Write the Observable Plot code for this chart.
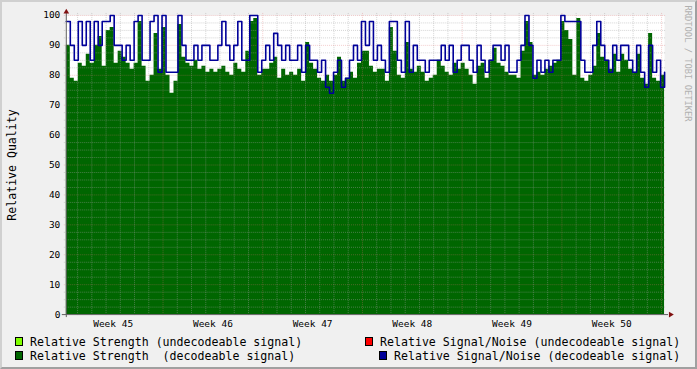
<!DOCTYPE html>
<html><head><meta charset="utf-8">
<script src="https://cdn.jsdelivr.net/npm/d3@7"></script>
<script src="https://cdn.jsdelivr.net/npm/@observablehq/plot@0.6"></script>
<style>
html,body{margin:0;padding:0;background:#F0F0F0;}
#wrap{position:relative;width:697px;height:369px;box-sizing:border-box;border-style:solid;border-width:2px;border-color:#d0d0d0 #a0a0a0 #a0a0a0 #d0d0d0;background:#F0F0F0;overflow:hidden;font-family:"DejaVu Sans Mono",monospace;}
#chart{position:absolute;left:-2px;top:-2px;}
.sw{position:absolute;width:6px;height:7px;border:1px solid #000;}
.lt{position:absolute;font-size:11.6px;line-height:14px;white-space:pre;color:#000;}
</style></head>
<body>
<div id="wrap"><div id="chart"></div></div>
<script>
// Relative Strength (decodeable signal), one sample every 6.72 h
const strength = [
 90,79,78,84,83,87,84,90,93,83,95,96,84,88,86,84,82,84,98,83,78,80,94,82,96,80,
 74,78,97,86,84,83,85,82,83,81,82,81,82,83,81,80,84,82,81,88,98,99,80,82,
 82,84,86,79,82,80,81,80,82,78,91,84,82,79,78,80,78,80,86,78,79,81,79,84,88,
 88,83,81,82,82,78,96,88,80,79,91,82,81,83,81,78,79,80,85,83,81,80,84,82,84,
 82,80,77,83,84,79,85,89,84,83,81,80,80,79,88,98,91,80,81,80,82,83,84,85,98,
 95,92,80,99,79,78,80,83,94,86,85,82,87,81,87,85,82,81,87,79,77,94,79,78,80,82
];
// Relative Signal/Noise (decodeable signal)
const signalNoise = [
 98,90,85,98,90,98,85,98,90,98,98,100,90,90,85,90,85,98,100,85,85,98,100,81,100,81,
 81,81,100,90,85,85,90,85,90,90,85,85,90,98,90,85,90,98,85,85,100,100,81,85,
 90,85,94,90,85,90,85,85,90,81,90,85,85,81,85,76,74,81,85,76,79,85,90,85,98,
 90,98,85,90,85,81,98,98,85,81,98,81,90,85,85,81,85,85,85,90,85,90,81,85,90,
 90,85,81,90,85,81,85,90,90,85,90,81,81,85,90,100,90,79,85,81,85,81,85,85,100,
 98,98,98,98,85,81,81,90,98,90,85,81,90,85,90,90,85,81,90,81,76,90,81,85,76,81
];
const weekLabels = ["Week 45","Week 46","Week 47","Week 48","Week 49","Week 50"];
const yTicks = [0,10,20,30,40,50,60,70,80,90,100];
const stepHours = 6.72;      // sampling step
const week45Start = -5.04;   // hours, relative to first sample
const legendItems = [
  {label:"Relative Strength (undecodeable signal)", color:"#80FF00"},
  {label:"Relative Strength  (decodeable signal)", color:"#006600"},
  {label:"Relative Signal/Noise (undecodeable signal)", color:"#FF0000"},
  {label:"Relative Signal/Noise (decodeable signal)", color:"#000099"}
];

const data = strength.map((v,i)=>({t:i*stepHours, strength:v, snr:signalNoise[i]}));
const tMax = (strength.length-1)*stepHours;
const weekMid = weekLabels.map((_,k)=>week45Start+84+168*k);
const weekBounds = d3.range(1,7).map(k=>week45Start+168*k).filter(t=>t<=tMax);
const dayLines = d3.range(1,44).filter(d=>d%7!==0).map(d=>week45Start+24*d).filter(t=>t>0&&t<tMax);
const yMinor = d3.range(2.5,100.1,2.5).filter(v=>v%10!==0);
const yMajor = yTicks.filter(v=>v>0);
const dash = "1,1";

const chart = Plot.plot({
  width:697, height:369,
  marginLeft:66, marginRight:31, marginTop:15, marginBottom:54,
  style:{fontFamily:"DejaVu Sans Mono, monospace", fontSize:"9.5px", background:"transparent", overflow:"visible", color:"#000"},
  x:{domain:[0,tMax]},
  y:{domain:[0,100]},
  marks:[
    Plot.frame({fill:"#ffffff", stroke:"none"}),
    Plot.areaY(data,{x:"t", y:"strength", fill:"#006600", curve:"step-after"}),
    Plot.ruleY(yMinor,{stroke:"#a0a0a0", strokeOpacity:0.45, strokeDasharray:dash, insetLeft:-2, insetRight:-2}),
    Plot.ruleX(dayLines,{stroke:"#a0a0a0", strokeOpacity:0.45, strokeDasharray:dash, insetBottom:-2, insetTop:-2}),
    Plot.ruleY(yMajor,{stroke:"#E07070", strokeOpacity:0.35, strokeDasharray:dash, insetLeft:-2, insetRight:-2}),
    Plot.ruleX(weekBounds,{stroke:"#E07070", strokeOpacity:0.35, strokeDasharray:dash, insetBottom:-2, insetTop:-2}),
    Plot.line(data,{x:"t", y:"snr", stroke:"#000099", strokeWidth:1.6, curve:"step-after"}),
    Plot.ruleX([0],{stroke:"#606060", insetTop:-3, insetBottom:-3}),
    Plot.ruleY([0],{stroke:"#606060", insetLeft:-4, insetRight:-4}),
    Plot.dot([0],{x:()=>0, y:()=>100, symbol:"triangle", r:2.1, fill:"#801010", stroke:"none", dy:-3.5}),
    Plot.dot([0],{x:()=>tMax, y:()=>0, symbol:"triangle", r:2.1, fill:"#801010", stroke:"none", rotate:90, dx:6}),
    Plot.axisY(yTicks,{tickSize:0, tickPadding:6, label:null, fontSize:9.5}),
    Plot.axisX(weekMid,{tickSize:0, tickPadding:6, label:null, fontSize:9.5,
      tickFormat:d=>weekLabels[Math.round((d-week45Start-84)/168)]}),
    Plot.text(["Relative Quality"],{frameAnchor:"left", text:d=>d, rotate:-90, textAnchor:"middle", lineAnchor:"middle", dx:-54.5, fontSize:11.6, fill:"#000"}),
    Plot.text(["RRDTOOL / TOBI OETIKER"],{frameAnchor:"top-right", text:d=>d, rotate:90, textAnchor:"start", lineAnchor:"middle", dx:23, dy:-10, fontSize:8.8, fill:"#b0b0b0"})
  ]
});
document.getElementById("chart").appendChild(chart);

// legend (positions in page px, wrap has a 2px border)
const wrap = document.getElementById("wrap");
const pos = [
  {sx:15, sy:337, tx:30, ty:334.5},
  {sx:15, sy:351, tx:30, ty:348.5},
  {sx:365, sy:337, tx:380, ty:334.5},
  {sx:379, sy:351, tx:394, ty:348.5}
];
legendItems.forEach((it,i)=>{
  const p = pos[i];
  const s = document.createElement("div");
  s.className="sw"; s.style.left=(p.sx-2)+"px"; s.style.top=(p.sy-2)+"px"; s.style.background=it.color;
  const t = document.createElement("div");
  t.className="lt"; t.style.left=(p.tx-2)+"px"; t.style.top=(p.ty-2)+"px"; t.textContent=it.label;
  wrap.appendChild(s); wrap.appendChild(t);
});
</script>
</body></html>
